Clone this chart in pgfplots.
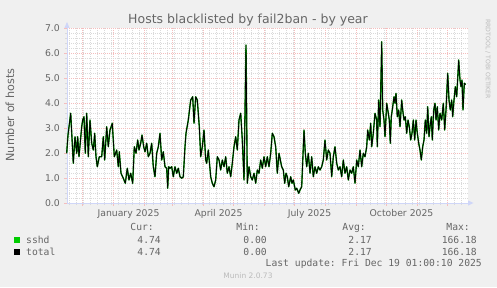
\documentclass[border=0pt]{standalone}
\usepackage{fontspec}
\setmainfont{DejaVu Sans}
\setmonofont{DejaVu Sans Mono}
\usepackage{pgfplots}
\pgfplotsset{compat=1.18}
\usepackage{pgfplotstable}
\usetikzlibrary{arrows.meta}
\definecolor{bgcol}{HTML}{F0F0F0}
\definecolor{fontcol}{HTML}{666666}
\definecolor{axiscol}{HTML}{CFD6F8}
\definecolor{mgrid}{HTML}{F4BEBE}
\definecolor{mingrid}{HTML}{DADADA}
\definecolor{sshdgreen}{HTML}{00CC00}
\definecolor{lightfont}{HTML}{BBBBBB}

% day 0 = 1 January 2025; sshd and total carry the same values
\pgfplotstableread{
day sshd total
-46.8 1.99 1.99
-45.5 2.72 2.72
-42.8 3.59 3.59
-40.2 1.59 1.59
-38.5 2.65 2.65
-36.8 1.99 1.99
-35.8 2.65 2.65
-34.5 1.85 1.85
-31.8 3.05 3.05
-30.8 3.32 3.32
-29.5 3.45 3.45
-28.2 1.99 1.99
-26.8 3.59 3.59
-25.2 1.85 1.85
-23.5 3.32 3.32
-21.8 2.39 2.39
-20.2 2.12 2.12
-18.8 2.79 2.79
-17.5 1.85 1.85
-16.2 1.45 1.45
-14.2 1.85 1.85
-11.8 1.85 1.85
-10.2 2.65 2.65
-8.8 1.72 1.72
-6.8 3.05 3.05
-5.2 2.25 2.25
-3.5 2.92 2.92
-1.2 3.19 3.19
0.8 1.85 1.85
3.2 2.12 2.12
4.8 1.45 1.45
5.8 2.05 2.05
7.5 1.19 1.19
9.8 0.99 0.99
11.8 0.79 0.79
13.8 1.39 1.39
15.5 0.92 0.92
17.2 1.19 1.19
19.2 0.79 0.79
20.8 2.25 2.25
22.5 1.99 1.99
24.2 2.52 2.52
25.5 2.12 2.12
27.2 2.39 2.39
28.5 2.72 2.72
30.2 2.25 2.25
31.5 2.05 2.05
33.2 2.39 2.39
34.8 1.85 1.85
36.5 1.99 1.99
38.2 2.39 2.39
39.8 1.45 1.45
41.5 1.05 1.05
43.2 1.99 1.99
44.8 2.25 2.25
46.5 2.79 2.79
48.2 1.72 1.72
49.8 2.05 2.05
51.5 1.45 1.45
53.2 1.39 1.39
54.2 0.59 0.59
55.2 1.45 1.45
56.5 1.39 1.39
58.2 1.45 1.45
59.8 1.05 1.05
61.5 1.45 1.45
63.2 1.19 1.19
64.8 1.39 1.39
66.5 1.05 1.05
68.2 0.99 0.99
69.8 1.05 1.05
71.5 2.25 2.25
72.5 2.79 2.79
74.8 3.32 3.32
77.2 4.12 4.12
79.2 4.25 4.25
80.5 3.19 3.19
82.2 4.25 4.25
83.8 4.12 4.12
85.8 3.05 3.05
87.2 1.85 1.85
88.8 2.25 2.25
90.5 2.92 2.92
92.2 1.72 1.72
93.2 1.59 1.59
94.8 2.12 2.12
97.2 1.05 1.05
98.8 0.79 0.79
100.5 0.65 0.65
102.2 0.92 0.92
103.8 1.85 1.85
105.5 1.72 1.72
107.2 1.32 1.32
108.8 1.72 1.72
110.5 1.45 1.45
112.2 1.85 1.85
113.8 1.19 1.19
115.5 1.45 1.45
117.2 1.05 1.05
118.8 1.59 1.59
120.5 2.25 2.25
122.2 2.65 2.65
123.8 2.12 2.12
125.5 3.32 3.32
127.2 3.59 3.59
128.8 2.52 2.52
130.5 0.92 0.92
132.5 6.32 6.32
133.8 0.79 0.79
135.5 1.45 1.45
137.2 1.05 1.05
138.8 0.92 0.92
140.5 1.19 1.19
142.2 0.79 0.79
143.8 1.32 1.32
145.5 1.19 1.19
147.2 1.72 1.72
148.8 1.39 1.39
150.5 1.85 1.85
152.2 1.45 1.45
153.8 1.85 1.85
155.5 1.45 1.45
157.2 1.99 1.99
158.8 2.79 2.79
160.5 2.65 2.65
162.2 2.25 2.25
163.8 1.19 1.19
165.5 1.99 1.99
168.2 1.45 1.45
169.8 1.32 1.32
171.2 0.79 0.79
172.5 1.19 1.19
173.8 1.05 1.05
175.2 0.65 0.65
177.2 1.05 1.05
178.5 0.79 0.79
179.8 0.92 0.92
181.8 0.52 0.52
183.2 0.59 0.59
185.2 0.39 0.39
186.5 0.52 0.52
188.2 0.65 0.65
190.5 2.92 2.92
191.8 1.99 1.99
193.2 1.45 1.45
194.8 1.99 1.99
196.5 1.19 1.19
198.2 1.85 1.85
199.8 1.05 1.05
201.5 1.45 1.45
203.2 1.19 1.19
204.8 1.45 1.45
206.5 1.32 1.32
208.2 1.45 1.45
209.8 1.72 1.72
211.5 2.52 2.52
213.2 1.72 1.72
214.8 2.12 2.12
216.5 1.99 1.99
218.2 1.05 1.05
219.8 1.85 1.85
221.5 2.25 2.25
223.2 1.59 1.59
224.8 1.32 1.32
226.5 1.45 1.45
228.2 1.05 1.05
229.8 1.72 1.72
231.5 1.19 1.19
233.2 1.45 1.45
234.8 0.92 0.92
236.5 1.32 1.32
238.2 1.19 1.19
239.8 1.45 1.45
241.5 0.79 0.79
243.2 1.72 1.72
244.8 1.45 1.45
246.5 2.12 2.12
248.2 1.45 1.45
249.8 1.99 1.99
251.5 1.85 1.85
253.2 2.25 2.25
254.2 2.92 2.92
255.8 2.52 2.52
257.2 3.19 3.19
258.2 2.25 2.25
259.8 2.79 2.79
261.5 3.59 3.59
263.2 3.32 3.32
263.8 2.25 2.25
265.2 4.12 4.12
266.5 3.05 3.05
268.2 6.45 6.45
269.2 3.72 3.72
270.5 3.32 3.32
271.5 2.65 2.65
273.2 3.99 3.99
274.8 3.59 3.59
275.8 3.32 3.32
276.8 2.39 2.39
277.8 3.45 3.45
279.2 3.85 3.85
280.5 4.25 4.25
281.5 3.99 3.99
282.5 4.39 4.39
283.8 3.45 3.45
285.2 3.72 3.72
286.5 3.05 3.05
288.2 4.12 4.12
289.2 3.72 3.72
290.5 3.32 3.32
291.8 3.45 3.45
293.2 2.79 2.79
294.5 3.32 3.32
295.8 3.05 3.05
297.2 2.52 2.52
298.5 2.79 2.79
299.8 3.32 3.32
301.2 2.52 2.52
302.5 3.32 3.32
303.8 2.79 2.79
305.2 2.39 2.39
306.5 2.12 2.12
307.8 1.72 1.72
309.2 2.25 2.25
310.5 2.52 2.52
311.8 3.32 3.32
313.2 2.79 2.79
314.2 3.85 3.85
315.5 2.65 2.65
316.5 3.05 3.05
317.8 3.45 3.45
318.8 2.52 2.52
320.2 3.72 3.72
321.5 3.99 3.99
322.5 3.32 3.32
323.8 3.85 3.85
325.2 2.92 2.92
326.5 3.59 3.59
328.2 3.32 3.32
329.8 3.99 3.99
331.2 2.92 2.92
332.5 3.72 3.72
334.2 5.19 5.19
335.5 4.12 4.12
336.8 3.72 3.72
338.2 4.12 4.12
339.2 3.45 3.45
340.5 4.12 4.12
341.8 4.65 4.65
343.2 4.25 4.25
345.2 5.72 5.72
346.5 4.92 4.92
347.5 4.65 4.65
348.5 4.92 4.92
349.5 3.72 3.72
350.8 4.79 4.79
352.2 4.74 4.74
}\hosts

\begin{document}
\begin{tikzpicture}[x=1pt,y=1pt]
\useasboundingbox (0,0) rectangle (497,287);
\fill[bgcol] (0,0) rectangle (497,287);
\begin{axis}[
  at={(67pt,84pt)}, anchor=south west,
  scale only axis, width=401pt, height=175pt,
  xmin=-46.5, xmax=354.5, ymin=0, ymax=7,
  axis background/.style={fill=white},
  clip=false,
  axis x line*=bottom, axis y line*=left,
  axis line style={draw=axiscol, line width=0.9pt},
  xtick={-31,0,31,59,90,120,151,181,212,243,273,304,334},
  xticklabels={},
  minor xtick={-44,-37,...,348},
  extra x ticks={15,105,196,288},
  extra x tick labels={January 2025,April 2025,July 2025,October 2025},
  extra x tick style={grid=none, major tick length=0pt,
    xticklabel style={anchor=base, inner sep=0pt, yshift=-13pt}},
  ytick={0,1,...,7},
  minor y tick num=4,
  grid=both,
  major grid style={draw=mgrid, line width=0.55pt, dash pattern=on 1pt off 1pt},
  minor grid style={draw=mingrid, line width=0.55pt, dash pattern=on 1pt off 1pt},
  tick align=outside,
  major tick length=3pt, minor tick length=2pt,
  major tick style={draw=mgrid, line width=0.7pt},
  minor tick style={draw=mingrid, line width=0.7pt},
  tick label style={font=\fontsize{9.3}{10}\selectfont, text=fontcol},
  /pgf/number format/assume math mode=true,
  yticklabel style={/pgf/number format/.cd, fixed, fixed zerofill, precision=1, /tikz/.cd,
    anchor=east, inner sep=0pt, xshift=-4pt},
]
\addplot[sshdgreen!75!black, line width=1.4pt, line join=round] table[x=day, y=sshd]{\hosts};
\addplot[black, line width=0.8pt, line join=round] table[x=day, y=total]{\hosts};
% axis arrows
\fill[axiscol, shift={(rel axis cs:0,1)}] (-2.6pt,0pt) -- (2.6pt,0pt) -- (0pt,6pt) -- cycle;
\fill[axiscol, shift={(rel axis cs:1,0)}] (0pt,-2.6pt) -- (0pt,2.6pt) -- (5.5pt,0pt) -- cycle;
\end{axis}

% title, axis label, watermark
\node[anchor=base, inner sep=0pt, text=fontcol, font=\fontsize{12.5}{14}\selectfont] at (248,263) {Hosts blacklisted by fail2ban - by year};
\node[rotate=90, inner sep=0pt, text=fontcol, font=\fontsize{11.2}{13}\selectfont] at (10,172) {Number of hosts};
\node[rotate=-90, inner sep=0pt, text=lightfont, font=\fontsize{6.2}{7}\selectfont] at (488,228) {RRDTOOL / TOBI OETIKER};

% legend
\begin{scope}[every node/.style={inner sep=0pt, text=fontcol, font=\ttfamily\fontsize{9.7}{11}\selectfont}]
\node[anchor=base east] at (154,56.2) {Cur:};
\node[anchor=base east] at (260,56.2) {Min:};
\node[anchor=base east] at (366,56.2) {Avg:};
\node[anchor=base east] at (470,56.2) {Max:};
\fill[sshdgreen] (14,44.3) rectangle (20,50.3);
\node[anchor=base west] at (26,43.8) {sshd};
\node[anchor=base east] at (161,43.8) {4.74};
\node[anchor=base east] at (267,43.8) {0.00};
\node[anchor=base east] at (372,43.8) {2.17};
\node[anchor=base east] at (477,43.8) {166.18};
\fill[black] (14,32.3) rectangle (20,38.3);
\node[anchor=base west] at (26,31.8) {total};
\node[anchor=base east] at (161,31.8) {4.74};
\node[anchor=base east] at (267,31.8) {0.00};
\node[anchor=base east] at (372,31.8) {2.17};
\node[anchor=base east] at (477,31.8) {166.18};
\node[anchor=base east] at (482,20.2) {Last update: Fri Dec 19 01:00:10 2025};
\end{scope}
\node[anchor=base, inner sep=0pt, text=lightfont, font=\fontsize{7.5}{9}\selectfont] at (248,8.3) {Munin 2.0.73};
\end{tikzpicture}
\end{document}
